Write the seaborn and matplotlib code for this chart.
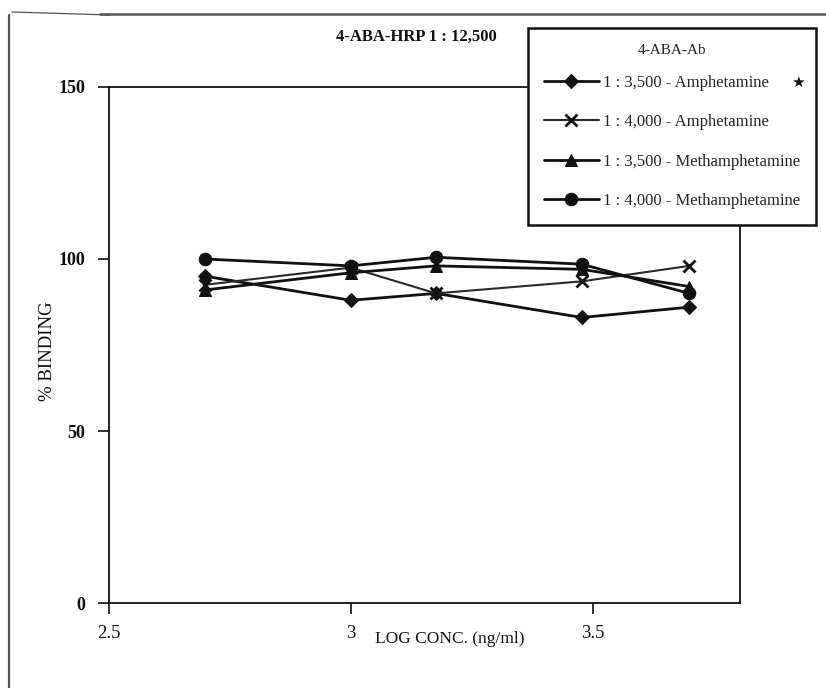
import numpy as np
import pandas as pd
import matplotlib
matplotlib.use("Agg")
import matplotlib.pyplot as plt
from matplotlib.lines import Line2D
import seaborn as sns

# Concentrations tested (ng/ml); plotted on a log10 axis
conc_ng_ml = [500, 1000, 1500, 3000, 5000]

series_labels = [
    "1 : 3,500 - Amphetamine",
    "1 : 4,000 - Amphetamine",
    "1 : 3,500 - Methamphetamine",
    "1 : 4,000 - Methamphetamine",
]
# % binding for each antibody dilution / analyte
amph_3500 = [95, 88, 90, 83, 86]
amph_4000 = [92.5, 97.5, 90, 93.5, 98]
meth_3500 = [91, 96, 98, 97, 92]
meth_4000 = [100, 98, 100.5, 98.5, 90]

y_ticks = [0, 50, 100, 150]
x_ticks = [2.5, 3, 3.5]
x_tick_labels = ["2.5", "3", "3.5"]

log_conc = np.log10(conc_ng_ml)
values = [amph_3500, amph_4000, meth_3500, meth_4000]
df = pd.DataFrame({
    "log_conc": np.tile(log_conc, len(series_labels)),
    "binding": np.concatenate(values),
    "series": np.repeat(series_labels, len(conc_ng_ml)),
})

sns.set_theme(style="white")
plt.rcParams["font.family"] = ["Liberation Serif", "DejaVu Serif"]

W, H = 826, 688
fig = plt.figure(figsize=(W / 100, H / 100), dpi=100)
ax = fig.add_axes([108.7 / W, 1 - 603 / H, (740 - 108.7) / W, (603 - 87) / H])

styles = {
    series_labels[0]: dict(marker="D", markersize=7, lw=2.0, color="#111111",
                           mfc="#111111", mec="#111111"),
    series_labels[1]: dict(marker="x", markersize=9, lw=1.5, color="#2a2a2a",
                           mew=2.0, mec="#111111"),
    series_labels[2]: dict(marker="^", markersize=8.5, lw=2.0, color="#111111",
                           mfc="#111111", mec="#111111"),
    series_labels[3]: dict(marker="o", markersize=9, lw=2.0, color="#111111",
                           mfc="#111111", mec="#111111"),
}

for name in series_labels:
    sub = df[df["series"] == name]
    sns.lineplot(data=sub, x="log_conc", y="binding", ax=ax, label=name,
                 estimator=None, sort=True, **styles[name])

ax.set_xlim(2.5, 3.804)
ax.set_ylim(0, 150)
ax.set_yticks(y_ticks)
ax.set_xticks(x_ticks)
ax.set_xticklabels(x_tick_labels)

for side in ["left", "right", "top", "bottom"]:
    ax.spines[side].set_visible(True)
    ax.spines[side].set_color("#111111")
    ax.spines[side].set_linewidth(1.3)

ax.tick_params(axis="y", direction="out", length=8, width=1.2, pad=9,
               labelsize=13, colors="#111111", left=True)
ax.tick_params(axis="x", direction="out", length=8, width=1.2, pad=8,
               labelsize=13.5, colors="#111111", bottom=True)
for t in ax.get_yticklabels():
    t.set_fontweight("bold")

ax.set_ylabel("% BINDING", fontsize=13.5, color="#111111")
ax.yaxis.set_label_coords(-0.083, 0.488)
ax.set_xlabel("LOG CONC. (ng/ml)", fontsize=12.5, color="#111111")
ax.xaxis.set_label_coords(0.54, -0.055)

fig.text(416 / W, 1 - 37 / H, "4-ABA-HRP 1 : 12,500", ha="center", va="center",
         fontsize=12, fontweight="bold", color="#111111")

handles, labels = ax.get_legend_handles_labels()
leg = ax.legend(handles, labels, title="4-ABA-Ab", loc="upper left",
                bbox_to_anchor=(528 / W, 1 - 28 / H), bbox_transform=fig.transFigure,
                frameon=True, fancybox=False, framealpha=1, edgecolor="#111111",
                fontsize=12, title_fontsize=11, handlelength=3.3,
                handletextpad=0.25, labelspacing=1.4, borderpad=0.95,
                borderaxespad=0)
# gap between the legend title and the first entry
leg._legend_box.sep = 13
leg.get_frame().set_linewidth(1.8)
leg.set_zorder(10)

# star flag next to the first legend entry
fig.text(798 / W, 1 - 82 / H, "\u2605", family="DejaVu Sans", fontsize=11,
         ha="center", va="center", color="#111111", zorder=20)

# page frame lines around the figure
frame_kw = dict(color="#555555", transform=fig.transFigure)
fig.add_artist(Line2D([9 / W, 9 / W], [1 - 15 / H, 0], lw=1.6, **frame_kw))
fig.add_artist(Line2D([100 / W, 1], [1 - 14 / H, 1 - 14 / H], lw=1.8, **frame_kw))
fig.add_artist(Line2D([12 / W, 110 / W], [1 - 12 / H, 1 - 15 / H], lw=0.9, **frame_kw))

fig.savefig("out.png", dpi=100, facecolor="white")
